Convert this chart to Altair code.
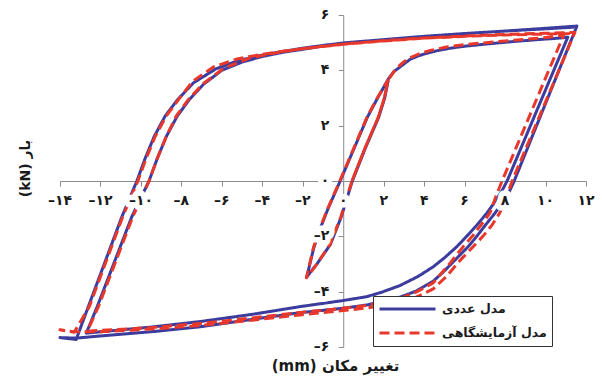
import altair as alt
import pandas as pd

# ---------------------------------------------------------------------------
# Hysteresis paths (displacement in mm, load in kN), listed in loading order
# ---------------------------------------------------------------------------
NUM_NAME = "مدل عددی"
EXP_NAME = "مدل آزمایشگاهی"

num_x = [
    # small cycle
    0.45, 1.1, 1.75, 2.05, 2.24,
    1.70, 1.19, 0.55, -0.15, -0.75, -1.1, -1.45, -1.8,
    -1.3, -0.64, -0.1, 0.45, 1.1, 1.75, 2.05, 2.24,
    # first loading to the positive peak
    2.5, 2.82, 3.31, 3.7, 4.14, 4.7, 5.29, 6.1, 7.2, 8.4, 9.6, 10.6, 11.1,
    # unloading, then loading to the negative peak
    8.1, 7.85, 7.5, 7.1, 6.6, 6.1, 5.62, 5.0, 4.45, 3.7, 2.8, 1.9, 1.17, 0.0,
    -2.13, -4.5, -7.07, -9.5, -12.0, -12.7,
    # reloading to the positive peak
    -12.16, -10.45, -9.6, -9.2, -8.75, -8.2, -7.6, -6.9, -6.0, -5.0, -4.0, -3.0, -2.0, -1.0,
    0.0, 2.0, 4.0, 6.0, 8.0, 10.0, 11.55,
    # second cycle
    8.45, 8.2, 7.9, 7.5, 7.0, 6.6, 6.18, 5.6, 5.0, 4.45, 3.6, 2.8, 1.17, 0.0,
    -2.13, -4.5, -7.07, -9.5, -12.0, -13.2, -14.0, -13.2,
    -12.6, -10.94, -10.2, -9.8, -9.35, -8.8, -8.2, -7.4, -6.3, -5.2, -4.0, -3.0, -2.0, -1.0,
    0.0, 2.0, 4.0, 6.0, 8.0, 10.0, 11.4,
]
num_y = [
    0.0, 1.2, 2.3, 3.0, 3.7,
    3.0, 2.3, 1.2, 0.0, -1.0, -1.65, -2.4, -3.46,
    -3.0, -2.3, -1.3, 0.0, 1.2, 2.3, 3.0, 3.7,
    3.95, 4.13, 4.4, 4.52, 4.62, 4.72, 4.8, 4.88, 4.96, 5.04, 5.11, 5.16, 5.2,
    0.0, -0.35, -0.75, -1.16, -1.6, -2.0, -2.37, -2.78, -3.1, -3.45, -3.78, -4.02, -4.18, -4.32,
    -4.54, -4.82, -5.08, -5.28, -5.45, -5.5,
    -4.54, -1.29, 0.0, 0.8, 1.6, 2.35, 2.95, 3.5, 4.0, 4.3, 4.5, 4.65, 4.76, 4.88,
    4.98, 5.1, 5.22, 5.33, 5.42, 5.52, 5.6,
    0.0, -0.4, -0.75, -1.16, -1.62, -2.0, -2.37, -2.8, -3.25, -3.62, -3.98, -4.2, -4.48, -4.6,
    -4.76, -5.0, -5.27, -5.45, -5.6, -5.68, -5.66, -5.73,
    -4.54, -1.29, 0.0, 0.8, 1.6, 2.35, 2.93, 3.55, 4.05, 4.35, 4.55, 4.68, 4.8, 4.9,
    4.99, 5.11, 5.23, 5.33, 5.42, 5.5, 5.56,
]

exp_x = [
    # small cycle
    0.43, 1.08, 1.73, 2.03, 2.22,
    1.68, 1.17, 0.53, -0.17, -0.77, -1.12, -1.47, -1.82,
    -1.32, -0.66, -0.12, 0.43, 1.08, 1.73, 2.03, 2.22,
    # first loading to the positive peak
    2.55, 2.85, 3.2, 3.7, 4.3, 5.1, 6.0, 7.5, 9.0, 10.2, 10.9,
    # unloading, then loading to the negative peak
    7.85, 7.55, 7.25, 6.8, 6.4, 5.93, 5.3, 4.45, 3.6, 2.8, 1.17, 0.0,
    -2.13, -4.5, -7.07, -9.5, -12.0, -12.65,
    # reloading to the positive peak
    -12.1, -10.4, -9.6, -9.2, -8.75, -8.25, -7.65, -6.95, -5.9, -4.6, -3.0, -1.5,
    0.0, 2.0, 4.0, 6.0, 8.0, 10.0, 11.45,
    # second cycle
    8.35, 8.05, 7.73, 7.35, 6.9, 6.43, 5.8, 5.1, 4.45, 3.6, 2.8, 1.17, 0.0,
    -2.13, -4.5, -7.07, -9.5, -12.0, -13.3, -14.0, -13.3,
    -12.55, -10.9, -10.15, -9.75, -9.3, -8.75, -8.15, -7.45, -6.4, -5.2, -4.0, -2.6, -1.2,
    0.0, 2.0, 4.0, 6.0, 8.0, 10.0, 11.2,
]
exp_y = [
    0.0, 1.2, 2.3, 3.0, 3.65,
    3.0, 2.3, 1.2, 0.0, -1.0, -1.65, -2.4, -3.5,
    -3.02, -2.3, -1.3, 0.0, 1.2, 2.3, 3.0, 3.65,
    4.0, 4.22, 4.42, 4.58, 4.72, 4.84, 4.93, 5.03, 5.12, 5.2, 5.28,
    0.0, -0.55, -1.16, -1.6, -1.98, -2.37, -2.95, -3.68, -4.02, -4.25, -4.5, -4.6,
    -4.75, -4.95, -5.15, -5.3, -5.4, -5.43,
    -4.54, -1.29, 0.0, 0.8, 1.6, 2.35, 2.95, 3.5, 4.08, 4.45, 4.68, 4.83,
    4.95, 5.07, 5.17, 5.24, 5.3, 5.34, 5.37,
    0.0, -0.6, -1.16, -1.6, -2.0, -2.37, -2.85, -3.45, -3.9, -4.2, -4.38, -4.59, -4.68,
    -4.84, -5.03, -5.22, -5.35, -5.45, -5.45, -5.38, -5.47,
    -4.54, -1.29, 0.0, 0.8, 1.6, 2.35, 2.93, 3.6, 4.13, 4.42, 4.58, 4.73, 4.85,
    4.94, 5.06, 5.16, 5.23, 5.28, 5.31, 5.33,
]

# Axis ticks and their Persian labels
x_ticks = [-14, -12, -10, -8, -6, -4, -2, 0, 2, 4, 6, 8, 10, 12]
x_tick_labels = ["–۱۴", "–۱۲", "–۱۰", "–۸", "–۶", "–۴", "–۲", "۰", "۲", "۴", "۶", "۸", "۱۰", "۱۲"]
y_ticks = [-6, -4, -2, 0, 2, 4, 6]
y_tick_labels = ["–۶", "–۴", "–۲", "۰", "۲", "۴", "۶"]

# ---------------------------------------------------------------------------
# Layout and style
# ---------------------------------------------------------------------------
W, H = 526, 332
PAD = {"left": 60, "top": 15, "right": 16, "bottom": 34}
X_DOMAIN = [-14, 12]
Y_DOMAIN = [-6, 6]
FONT = "DejaVu Sans"
BLUE = "#3c3c9e"
RED = "#e8382c"
AXIS_GRAY = "#8c8c8c"
TEXT = "#1a1a1a"

# axes cross at the origin: shift them inwards from the plot edges
x_axis_offset = -H * (0 - Y_DOMAIN[0]) / (Y_DOMAIN[1] - Y_DOMAIN[0])
y_axis_offset = -W * (0 - X_DOMAIN[0]) / (X_DOMAIN[1] - X_DOMAIN[0])

x_scale = alt.Scale(domain=X_DOMAIN, nice=False, zero=False)
y_scale = alt.Scale(domain=Y_DOMAIN, nice=False, zero=False)

x_axis = alt.Axis(
    offset=x_axis_offset, values=x_ticks, labels=False, grid=False,
    domainColor=AXIS_GRAY, tickColor=AXIS_GRAY, tickSize=5,
    title="(mm) تغییر مکان", titleFont=FONT, titleFontSize=15, titleFontWeight="bold",
    titleColor=TEXT, titleAngle=0, titleAlign="center", titleBaseline="middle",
    titleX=275, titleY=184,
)
y_axis = alt.Axis(
    offset=y_axis_offset, values=y_ticks, labels=False, grid=False,
    domainColor=AXIS_GRAY, tickColor=AXIS_GRAY, tickSize=5,
    title="(kN) بار", titleFont=FONT, titleFontSize=14, titleFontWeight="bold",
    titleColor=TEXT, titleAngle=-90, titleAlign="center", titleBaseline="middle",
    titleX=-35 + y_axis_offset, titleY=153,
)

series_domain = [NUM_NAME, EXP_NAME]
legend = alt.Legend(
    title=None, orient="none", legendX=313, legendY=281, direction="vertical",
    symbolType="stroke", symbolSize=3136, symbolStrokeWidth=3, clipHeight=16,
    rowPadding=8, padding=5, labelOffset=5, labelLimit=300,
    labelFont=FONT, labelFontSize=12.5, labelFontWeight="bold", labelColor=TEXT,
    strokeColor="#333333", fillColor="white", zindex=1,
)
color = alt.Color("series:N", scale=alt.Scale(domain=series_domain, range=[BLUE, RED]), legend=legend)
dash = alt.StrokeDash("series:N", scale=alt.Scale(domain=series_domain, range=[[1, 0], [10, 5]]), legend=legend)

num_df = pd.DataFrame({"x": num_x, "y": num_y, "series": NUM_NAME})
num_df["order"] = range(len(num_df))
exp_df = pd.DataFrame({"x": exp_x, "y": exp_y, "series": EXP_NAME})
exp_df["order"] = range(len(exp_df))


def path_layer(df):
    return alt.Chart(df).mark_line(strokeWidth=3, strokeJoin="round").encode(
        x=alt.X("x:Q", scale=x_scale, axis=x_axis),
        y=alt.Y("y:Q", scale=y_scale, axis=y_axis),
        color=color,
        strokeDash=dash,
        order="order:Q",
    )


xlab_df = pd.DataFrame({"x": x_ticks, "y": 0, "t": x_tick_labels})
ylab_df = pd.DataFrame({"x": 0, "y": y_ticks, "t": y_tick_labels})


def label_layers(df, **kw):
    enc = dict(
        x=alt.X("x:Q", scale=x_scale, axis=x_axis),
        y=alt.Y("y:Q", scale=y_scale, axis=y_axis),
        text="t:N",
    )
    base = dict(font=FONT, fontSize=14, fontWeight="bold", baseline="middle", **kw)
    halo = alt.Chart(df).mark_text(fill="white", stroke="white", strokeWidth=11,
                                   strokeJoin="round", **base).encode(**enc)
    text = alt.Chart(df).mark_text(fill=TEXT, **base).encode(**enc)
    return [halo, text]


layers = [path_layer(num_df), path_layer(exp_df)]
layers += label_layers(xlab_df, align="center", dy=20)
layers += label_layers(ylab_df, align="right", dx=-14)

chart = alt.layer(*layers).properties(
    width=W, height=H,
    autosize=alt.AutoSizeParams(type="none"),
    padding=PAD,
    background="white",
).configure_view(stroke=None)

chart.save("out.html", embed_options={"renderer": "svg", "actions": False})
